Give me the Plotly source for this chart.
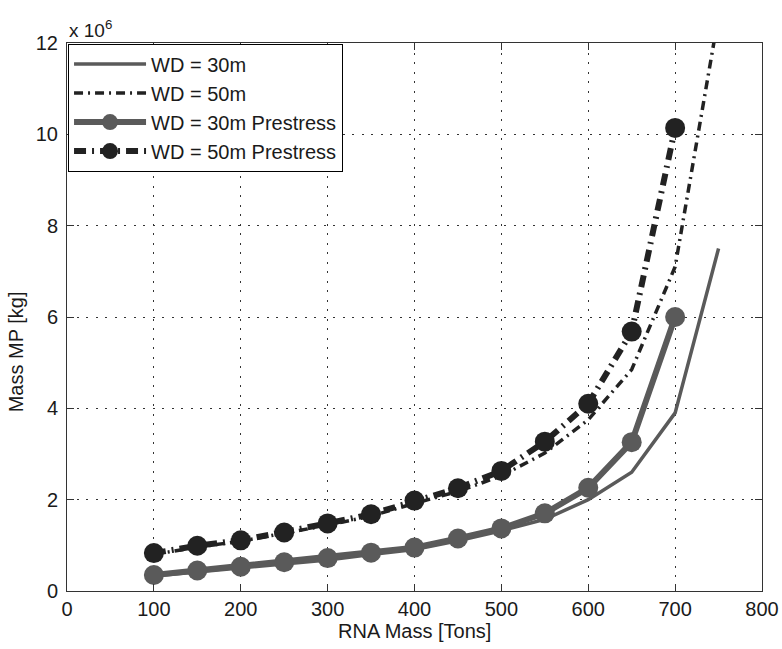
import plotly.graph_objects as go

rna_mass = [100, 150, 200, 250, 300, 350, 400, 450, 500, 550, 600, 650, 700, 750]
rna_mass_p = [100, 150, 200, 250, 300, 350, 400, 450, 500, 550, 600, 650, 700]

wd30 = [0.33, 0.42, 0.50, 0.59, 0.68, 0.80, 0.91, 1.10, 1.32, 1.57, 2.0, 2.6, 3.9, 7.5]
wd50 = [0.80, 0.96, 1.09, 1.26, 1.44, 1.64, 1.92, 2.18, 2.52, 3.02, 3.75, 4.85, 7.1, 12.6]
wd30_p = [0.35, 0.45, 0.53, 0.63, 0.72, 0.84, 0.95, 1.15, 1.37, 1.70, 2.26, 3.26, 6.0]
wd50_p = [0.83, 0.99, 1.11, 1.28, 1.48, 1.68, 1.98, 2.25, 2.63, 3.27, 4.10, 5.68, 10.14]

x_ticks = [0, 100, 200, 300, 400, 500, 600, 700, 800]
y_ticks = [0, 2, 4, 6, 8, 10, 12]

scale = 1e6
gray = "#5a5a5a"
dark = "#222222"
font_family = "Liberation Sans, Arial, sans-serif"
txt = "#1a1a1a"

fig = go.Figure()
fig.add_trace(go.Scatter(x=rna_mass, y=[v * scale for v in wd30], mode="lines",
                         name="WD = 30m", line=dict(color=gray, width=3.5)))
fig.add_trace(go.Scatter(x=rna_mass, y=[v * scale for v in wd50], mode="lines",
                         name="WD = 50m", line=dict(color=dark, width=3.5, dash="9px,5px,2px,5px")))
fig.add_trace(go.Scatter(x=rna_mass_p, y=[v * scale for v in wd30_p], mode="lines+markers",
                         name="WD = 30m Prestress", line=dict(color=gray, width=6),
                         marker=dict(symbol="circle", size=20, color=gray)))
fig.add_trace(go.Scatter(x=rna_mass_p, y=[v * scale for v in wd50_p], mode="lines+markers",
                         name="WD = 50m Prestress", line=dict(color=dark, width=6, dash="12px,6px,2px,6px"),
                         marker=dict(symbol="circle", size=20, color=dark)))

axis_common = dict(
    showline=True, linecolor="#333333", linewidth=1, mirror="ticks",
    ticks="inside", ticklen=7, tickcolor="#333333",
    showgrid=True, gridcolor="#333333", gridwidth=1, griddash="2px,7.5px",
    zeroline=False, automargin=False,
    tickfont=dict(size=20, color=txt, family=font_family),
)

fig.update_xaxes(range=[0, 800], tickvals=x_ticks, ticktext=[str(v) for v in x_ticks],
                 **axis_common)
fig.update_yaxes(range=[0, 12e6], tickvals=[v * scale for v in y_ticks],
                 ticktext=[str(v) for v in y_ticks], ticklabelstandoff=4,
                 **axis_common)

fig.add_annotation(x=0, y=1, xref="paper", yref="paper", xanchor="left", yanchor="bottom",
                   text="x 10<sup>6</sup>", showarrow=False, yshift=0,
                   font=dict(size=19, color=txt, family=font_family))
fig.add_annotation(x=0.5, y=-0.073, xref="paper", yref="paper", xanchor="center", yanchor="middle",
                   text="RNA Mass [Tons]", showarrow=False,
                   font=dict(size=20, color=txt, family=font_family))
fig.add_annotation(x=-0.073, y=0.436, xref="paper", yref="paper", xanchor="center", yanchor="middle",
                   text="Mass MP [kg]", textangle=-90, showarrow=False,
                   font=dict(size=20, color=txt, family=font_family))

fig.update_layout(
    width=782, height=649,
    margin=dict(l=67, r=20, t=43, b=58),
    plot_bgcolor="white", paper_bgcolor="white",
    font=dict(family=font_family, color=txt),
    legend=dict(x=0.0015, y=0.999, xanchor="left", yanchor="top",
                bgcolor="white", bordercolor="#000000", borderwidth=1,
                font=dict(size=20, family=font_family, color=txt),
                itemwidth=72, tracegroupgap=0),
    showlegend=True,
)

fig.write_html("out.html", config={"displayModeBar": False},
               post_script="document.body.style.margin='0';document.body.style.overflow='hidden';")
